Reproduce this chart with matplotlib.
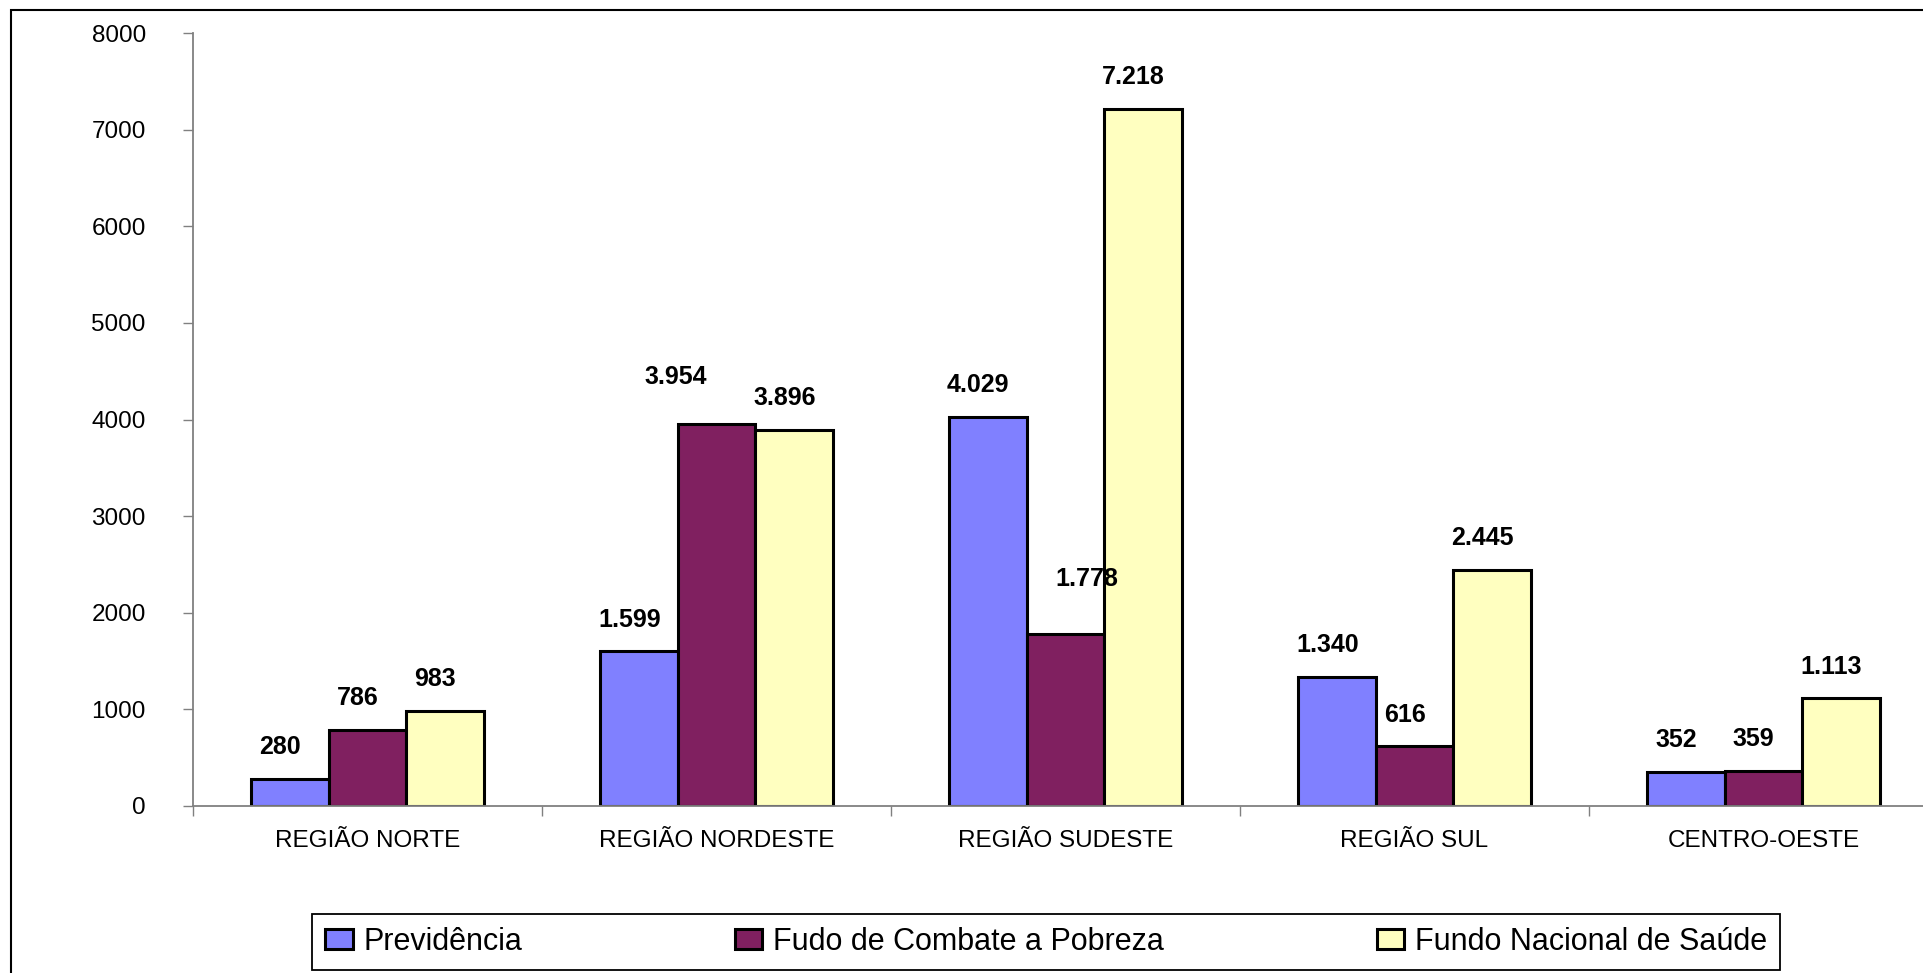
import numpy as np
import matplotlib
matplotlib.use('Agg')
import matplotlib.pyplot as plt
from matplotlib.patches import Rectangle

plt.rcParams['font.family'] = ['Liberation Sans', 'DejaVu Sans']

# dados por região
regioes = ['REGIÃO NORTE', 'REGIÃO NORDESTE', 'REGIÃO SUDESTE', 'REGIÃO SUL', 'CENTRO-OESTE']
series = ['Previdência', 'Fudo de Combate a Pobreza', 'Fundo Nacional de Saúde']
previdencia = [280, 1599, 4029, 1340, 352]
combate_pobreza = [786, 3954, 1778, 616, 359]
fundo_saude = [983, 3896, 7218, 2445, 1113]
y_ticks = [0, 1000, 2000, 3000, 4000, 5000, 6000, 7000, 8000]

cores = ['#8080FF', '#802060', '#FFFFC0']
# deslocamento dos rótulos (pontos), o resto fica no padrão
rot_offset = {(1, 1): (-29, 34), (1, 2): (15, 40)}

W, H = 1924, 973
fig = plt.figure(figsize=(W / 100, H / 100), dpi=100)
ax = fig.add_axes([193 / W, 1 - 806 / H, 1745 / W, 773 / H])

x = np.arange(len(regioes))
w = 2 / 9
valores = [previdencia, combate_pobreza, fundo_saude]
for j, (nome, vals) in enumerate(zip(series, valores)):
    pos = x + (j - 1) * w
    ax.bar(pos, vals, width=w, color=cores[j], edgecolor='black', linewidth=2.2,
           label=nome, zorder=2)
    for i, v in enumerate(vals):
        dx, dy = rot_offset.get((j, i), (-7, 23))
        txt = f'{v:,}'.replace(',', '.')
        ax.annotate(txt, (pos[i], v), xytext=(dx, dy), textcoords='offset points',
                    ha='center', va='center', fontsize=18, fontweight='bold', zorder=5)

ax.set_xlim(-0.5, len(regioes) - 0.5)
ax.set_ylim(0, 8000)
ax.set_yticks(y_ticks)
ax.set_yticklabels([str(t) for t in y_ticks])
ax.tick_params(axis='y', direction='out', length=7, width=1, color='#808080',
               labelsize=17.5, pad=27)

ax.set_xticks(np.arange(len(regioes) + 1) - 0.5)
ax.set_xticklabels([])
ax.tick_params(axis='x', which='major', direction='out', length=7, width=1, color='#808080')
ax.set_xticks(x, minor=True)
ax.set_xticklabels(regioes, minor=True)
ax.tick_params(axis='x', which='minor', length=0, labelsize=17.5, pad=17)

for s in ['top', 'right']:
    ax.spines[s].set_visible(False)
for s in ['left', 'bottom']:
    ax.spines[s].set_color('#808080')
    ax.spines[s].set_linewidth(1.3)

leg = fig.legend(loc='lower left', bbox_to_anchor=(312 / W, 1 - 970 / H, 1468 / W, 55 / H),
                 ncol=3, mode='expand', fontsize=22, frameon=True, fancybox=False,
                 edgecolor='black', framealpha=1, handlelength=0.9, handleheight=0.6,
                 handletextpad=0.35, borderaxespad=0, borderpad=0.43)
leg.get_frame().set_linewidth(1.3)

# moldura da figura
fig.patches.append(Rectangle((11 / W, -0.5), 2, 1.5 - 10 / H, transform=fig.transFigure,
                             fill=False, edgecolor='black', linewidth=1.5))

fig.savefig('out.png', dpi=100)
